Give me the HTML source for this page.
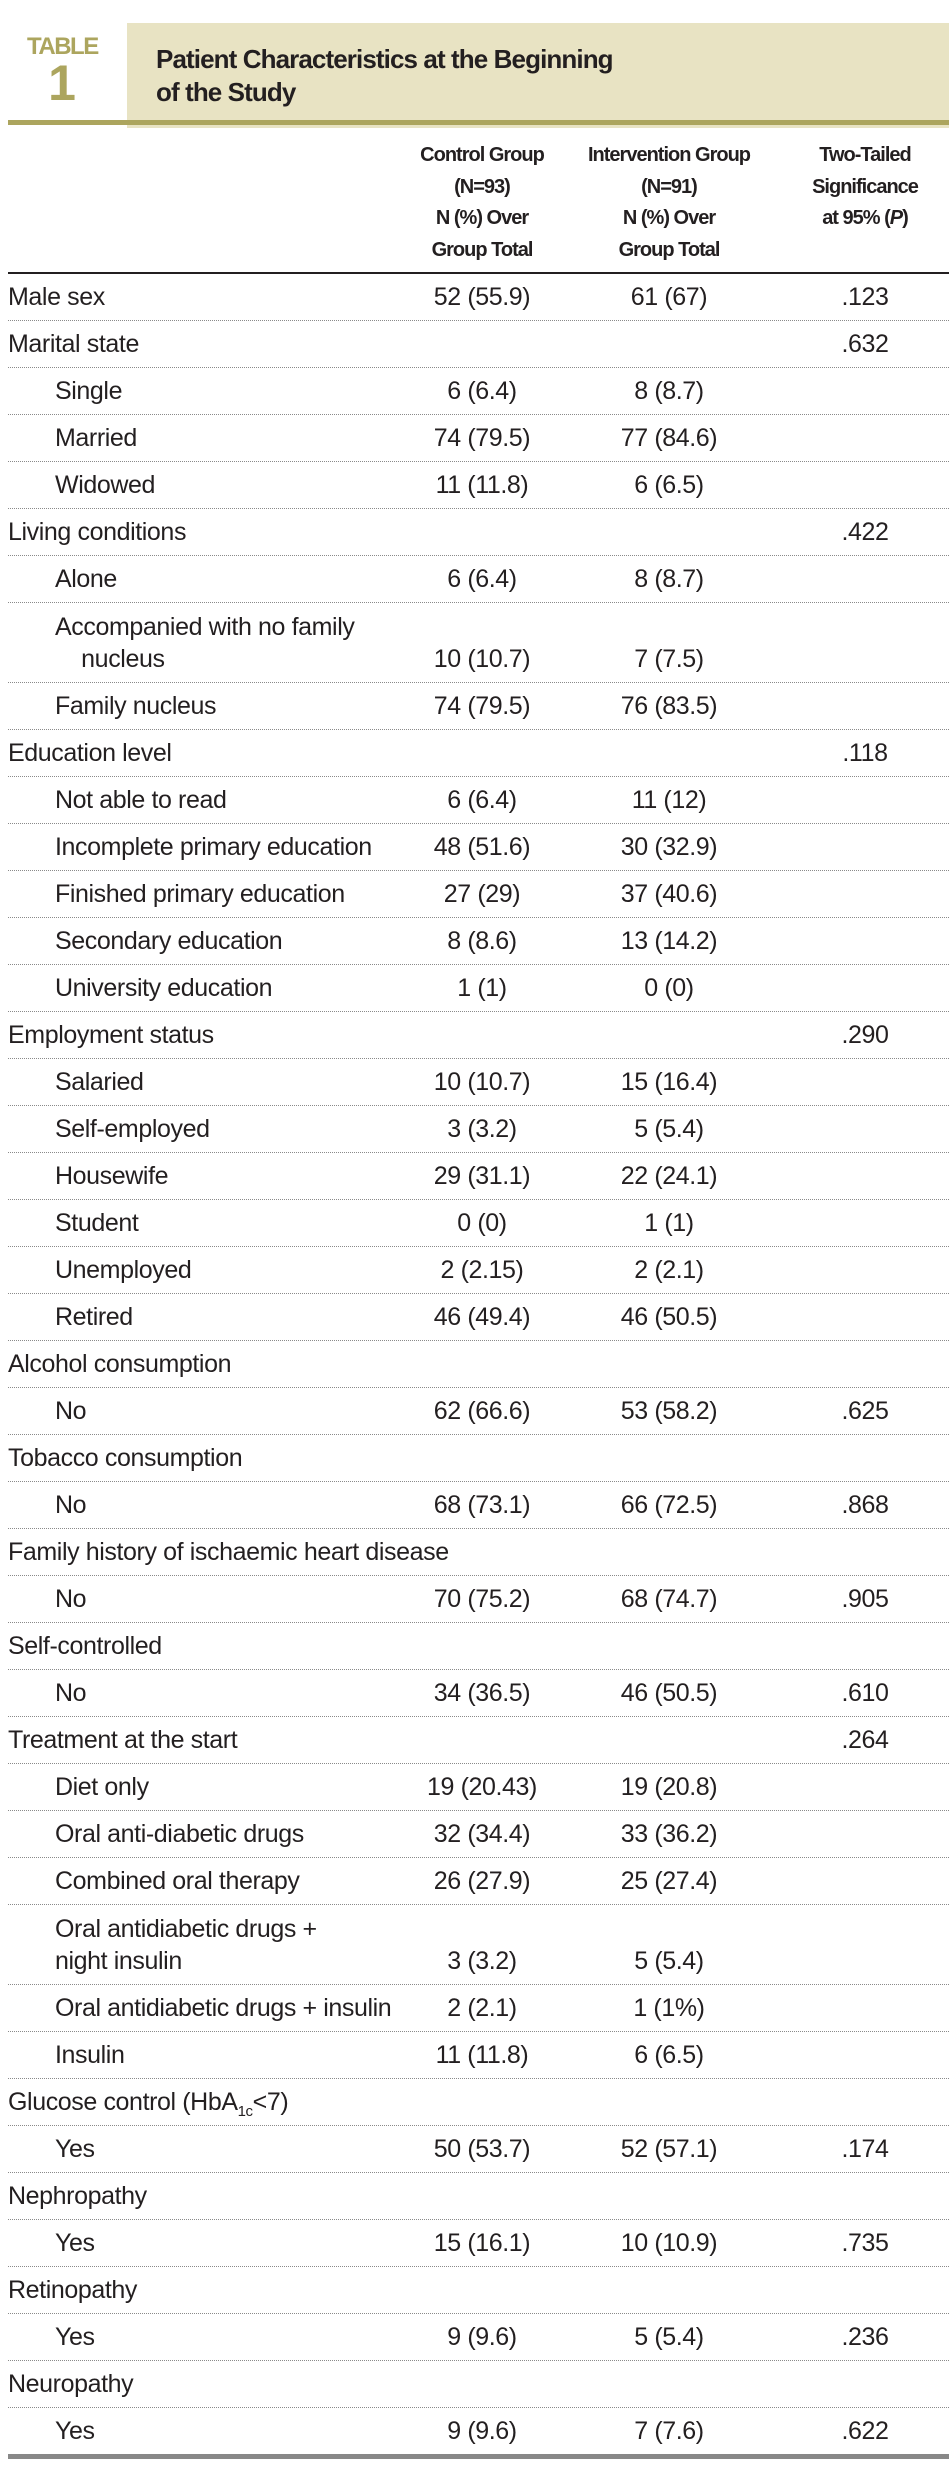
<!DOCTYPE html>
<html><head><meta charset="utf-8"><style>
body{margin:0;width:949px;height:2466px;background:#fff;position:relative;font-family:"Liberation Sans",sans-serif;color:#231f20;overflow:hidden}
.band{position:absolute;left:127px;top:23px;width:822px;height:105px;background:#e8e3c3}
.thick{position:absolute;left:8px;top:120px;width:941px;height:5px;background:#aca55e}
.tbl{position:absolute;left:27px;top:34px;width:70px;text-align:center;color:#aca55e;font-weight:bold;font-size:24px;letter-spacing:-1.5px;line-height:26px}
.tbl .n{font-size:50px;line-height:46px;letter-spacing:0}
.title{position:absolute;left:156px;top:43px;font-weight:bold;font-size:26px;line-height:33px;letter-spacing:-0.9px}
.ch{position:absolute;top:140px;width:190px;text-align:center;font-weight:bold;font-size:20px;line-height:31.5px;letter-spacing:-1px}
.sep{position:absolute;left:8px;top:272px;width:941px;height:2px;background:#231f20}
.rows{position:absolute;left:8px;top:274px;width:941px}
.r{position:relative;height:47px;border-bottom:1px dotted #8a8a8a;box-sizing:border-box;font-size:25px;line-height:46px}
.r.t{height:80px}
.r .l{position:absolute;left:0;top:0;letter-spacing:-0.4px}
.r.s .l{left:47px}
.r.t .l{line-height:32px;top:8px}
.r .a,.r .b,.r .p{position:absolute;top:0;width:190px;text-align:center;letter-spacing:-0.4px}
.r.t .a,.r.t .b,.r.t .p{top:33px}
.a{left:379px}.b{left:566px}.p{left:762px}
.r.last{border-bottom:none}
.bottom{position:absolute;left:8px;top:2454px;width:941px;height:5px;background:#888}
sub{font-size:15px;line-height:0}
</style></head><body>
<div class="band"></div>
<div class="thick"></div>
<div class="tbl">TABLE<br><span class="n">1</span></div>
<div class="title">Patient Characteristics at the Beginning<br>of the Study</div>
<div class="ch" style="left:387px">Control Group<br>(N=93)<br>N (%) Over<br>Group Total</div>
<div class="ch" style="left:574px">Intervention Group<br>(N=91)<br>N (%) Over<br>Group Total</div>
<div class="ch" style="left:770px">Two-Tailed<br>Significance<br>at 95% (<i>P</i>)</div>
<div class="sep"></div>
<div class="rows">
<div class="r"><span class="l">Male sex</span><span class="a">52 (55.9)</span><span class="b">61 (67)</span><span class="p">.123</span></div>
<div class="r"><span class="l">Marital state</span><span class="p">.632</span></div>
<div class="r s"><span class="l">Single</span><span class="a">6 (6.4)</span><span class="b">8 (8.7)</span></div>
<div class="r s"><span class="l">Married</span><span class="a">74 (79.5)</span><span class="b">77 (84.6)</span></div>
<div class="r s"><span class="l">Widowed</span><span class="a">11 (11.8)</span><span class="b">6 (6.5)</span></div>
<div class="r"><span class="l">Living conditions</span><span class="p">.422</span></div>
<div class="r s"><span class="l">Alone</span><span class="a">6 (6.4)</span><span class="b">8 (8.7)</span></div>
<div class="r s t"><span class="l">Accompanied with no family<br>&nbsp;&nbsp;&nbsp;&nbsp;nucleus</span><span class="a">10 (10.7)</span><span class="b">7 (7.5)</span></div>
<div class="r s"><span class="l">Family nucleus</span><span class="a">74 (79.5)</span><span class="b">76 (83.5)</span></div>
<div class="r"><span class="l">Education level</span><span class="p">.118</span></div>
<div class="r s"><span class="l">Not able to read</span><span class="a">6 (6.4)</span><span class="b">11 (12)</span></div>
<div class="r s"><span class="l">Incomplete primary education</span><span class="a">48 (51.6)</span><span class="b">30 (32.9)</span></div>
<div class="r s"><span class="l">Finished primary education</span><span class="a">27 (29)</span><span class="b">37 (40.6)</span></div>
<div class="r s"><span class="l">Secondary education</span><span class="a">8 (8.6)</span><span class="b">13 (14.2)</span></div>
<div class="r s"><span class="l">University education</span><span class="a">1 (1)</span><span class="b">0 (0)</span></div>
<div class="r"><span class="l">Employment status</span><span class="p">.290</span></div>
<div class="r s"><span class="l">Salaried</span><span class="a">10 (10.7)</span><span class="b">15 (16.4)</span></div>
<div class="r s"><span class="l">Self-employed</span><span class="a">3 (3.2)</span><span class="b">5 (5.4)</span></div>
<div class="r s"><span class="l">Housewife</span><span class="a">29 (31.1)</span><span class="b">22 (24.1)</span></div>
<div class="r s"><span class="l">Student</span><span class="a">0 (0)</span><span class="b">1 (1)</span></div>
<div class="r s"><span class="l">Unemployed</span><span class="a">2 (2.15)</span><span class="b">2 (2.1)</span></div>
<div class="r s"><span class="l">Retired</span><span class="a">46 (49.4)</span><span class="b">46 (50.5)</span></div>
<div class="r"><span class="l">Alcohol consumption</span></div>
<div class="r s"><span class="l">No</span><span class="a">62 (66.6)</span><span class="b">53 (58.2)</span><span class="p">.625</span></div>
<div class="r"><span class="l">Tobacco consumption</span></div>
<div class="r s"><span class="l">No</span><span class="a">68 (73.1)</span><span class="b">66 (72.5)</span><span class="p">.868</span></div>
<div class="r"><span class="l">Family history of ischaemic heart disease</span></div>
<div class="r s"><span class="l">No</span><span class="a">70 (75.2)</span><span class="b">68 (74.7)</span><span class="p">.905</span></div>
<div class="r"><span class="l">Self-controlled</span></div>
<div class="r s"><span class="l">No</span><span class="a">34 (36.5)</span><span class="b">46 (50.5)</span><span class="p">.610</span></div>
<div class="r"><span class="l">Treatment at the start</span><span class="p">.264</span></div>
<div class="r s"><span class="l">Diet only</span><span class="a">19 (20.43)</span><span class="b">19 (20.8)</span></div>
<div class="r s"><span class="l">Oral anti-diabetic drugs</span><span class="a">32 (34.4)</span><span class="b">33 (36.2)</span></div>
<div class="r s"><span class="l">Combined oral therapy</span><span class="a">26 (27.9)</span><span class="b">25 (27.4)</span></div>
<div class="r s t"><span class="l">Oral antidiabetic drugs +<br>night insulin</span><span class="a">3 (3.2)</span><span class="b">5 (5.4)</span></div>
<div class="r s"><span class="l">Oral antidiabetic drugs + insulin</span><span class="a">2 (2.1)</span><span class="b">1 (1%)</span></div>
<div class="r s"><span class="l">Insulin</span><span class="a">11 (11.8)</span><span class="b">6 (6.5)</span></div>
<div class="r"><span class="l">Glucose control (HbA<sub>1c</sub>&lt;7)</span></div>
<div class="r s"><span class="l">Yes</span><span class="a">50 (53.7)</span><span class="b">52 (57.1)</span><span class="p">.174</span></div>
<div class="r"><span class="l">Nephropathy</span></div>
<div class="r s"><span class="l">Yes</span><span class="a">15 (16.1)</span><span class="b">10 (10.9)</span><span class="p">.735</span></div>
<div class="r"><span class="l">Retinopathy</span></div>
<div class="r s"><span class="l">Yes</span><span class="a">9 (9.6)</span><span class="b">5 (5.4)</span><span class="p">.236</span></div>
<div class="r"><span class="l">Neuropathy</span></div>
<div class="r s last"><span class="l">Yes</span><span class="a">9 (9.6)</span><span class="b">7 (7.6)</span><span class="p">.622</span></div>
</div>
<div class="bottom"></div>
</body></html>
